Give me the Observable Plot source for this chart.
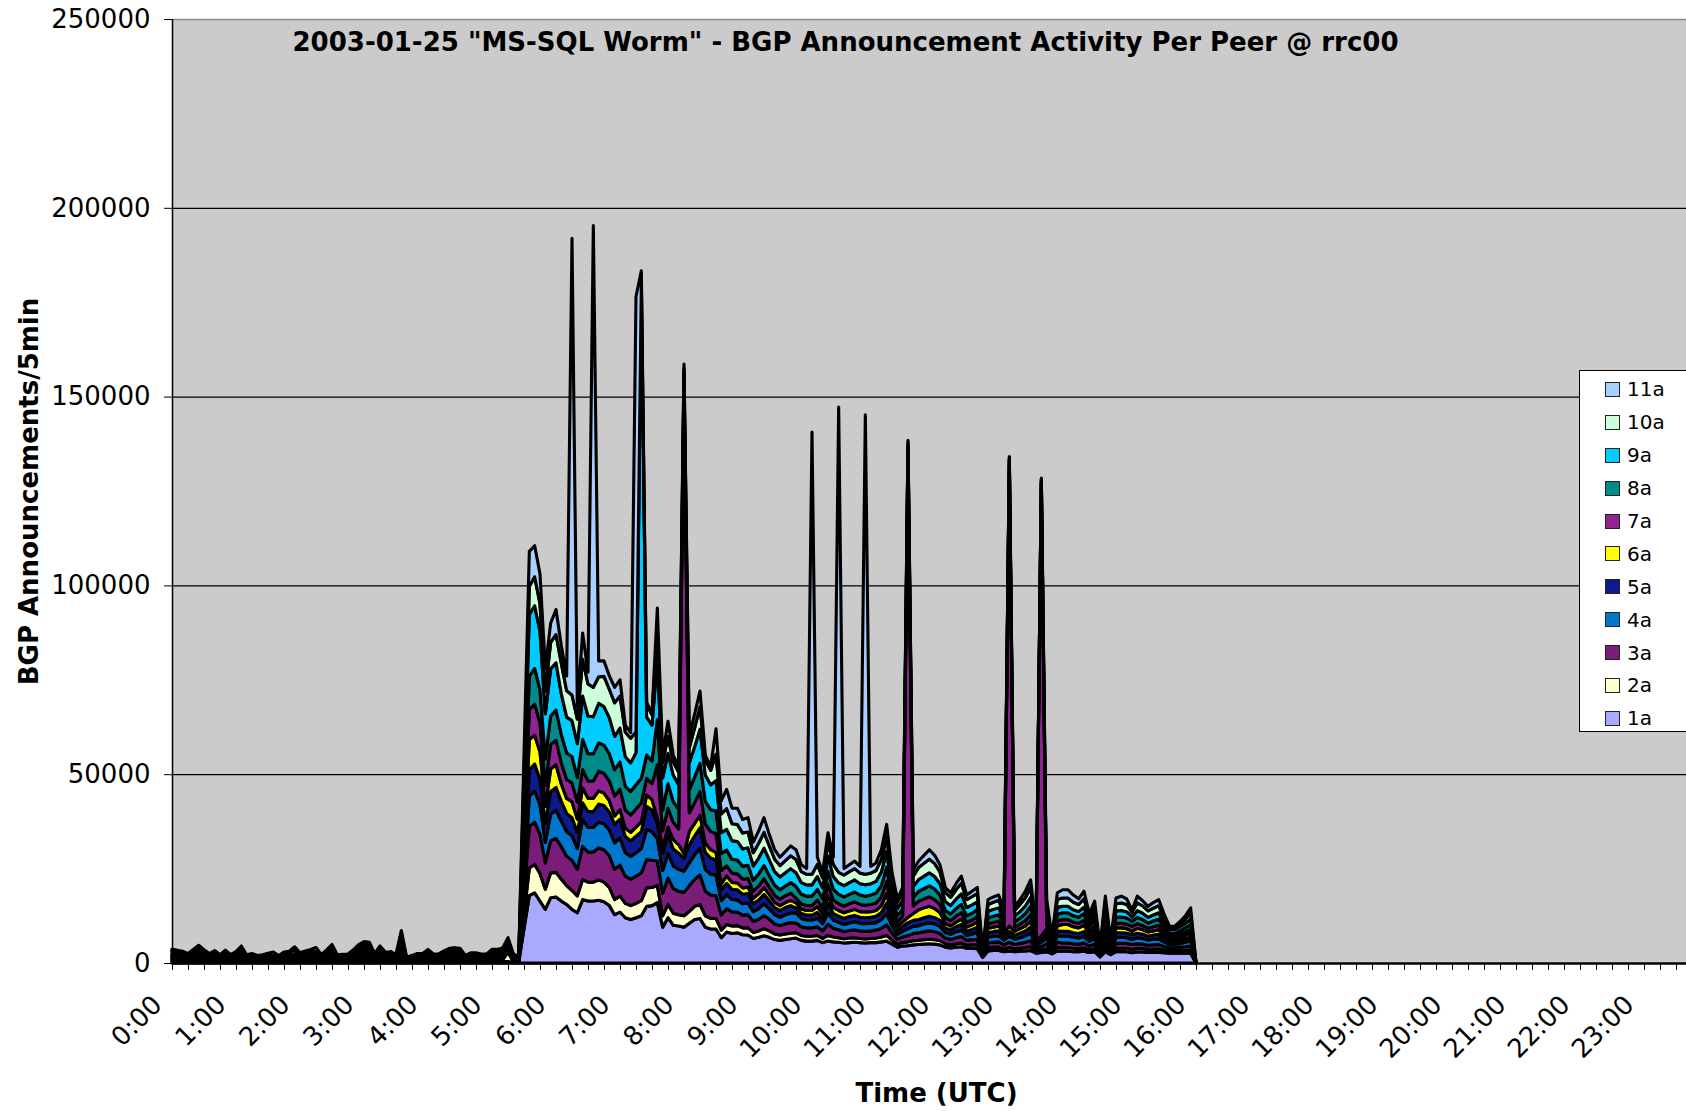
<!DOCTYPE html>
<html>
<head>
<meta charset="utf-8">
<script src="https://cdn.jsdelivr.net/npm/d3@7"></script>
<script src="https://cdn.jsdelivr.net/npm/@observablehq/plot@0.6"></script>
<style>
  html, body { margin: 0; padding: 0; overflow: hidden; background: #ffffff; }
  #wrap { position: relative; width: 1686px; height: 1111px; overflow: hidden; font-family: "DejaVu Sans", Verdana, sans-serif; }
  #legend { position: absolute; left: 1579px; top: 370px; width: 140px; height: 362px; background: #fff; border: 1px solid #000; box-sizing: border-box; padding-top: 2px; }
  .row { height: 32.9px; display: flex; align-items: center; }
  .sw { width: 13px; height: 13px; border: 1.5px solid #222; margin-left: 25px; margin-right: 7px; }
  .lb { font-size: 20px; color: #000; }
</style>
</head>
<body>
<div id="wrap"></div>
<script>
// ---- text ----
const chartTitle = '2003-01-25 "MS-SQL Worm" - BGP Announcement Activity Per Peer @ rrc00';
const yTitle = "BGP Announcements/5min";
const xTitle = "Time (UTC)";
const hourLabels = ["0:00","1:00","2:00","3:00","4:00","5:00","6:00","7:00","8:00","9:00","10:00","11:00",
  "12:00","13:00","14:00","15:00","16:00","17:00","18:00","19:00","20:00","21:00","22:00","23:00"];
const yTicks = [0, 50000, 100000, 150000, 200000, 250000];

// ---- series (peers), stacked bottom to top ----
const series = ["1a","2a","3a","4a","5a","6a","7a","8a","9a","10a","11a"];
const colors = ["#a9a9ff","#ffffd0","#7a1c78","#0077cc","#0c1a8c","#ffff00","#8f2390","#008b8b","#00ccff","#ccffda","#a8d0ff"];

// ---- values per 5-minute slot, 0:00 .. 16:00 ----
// quiet period 0:00-5:25 (slots 0..65), thin band shared by most peers
const quietBand = [300,300,300,200,300,400,300,200,300,200, 300,200,300,400,200,200,200,200,200,200,
  200,200,200,300,200,200,300,300,200,300, 400,200,200,200,300,400,500,500,200,400,
  200,300,200,800,100,200,200,200,300,200, 200,300,300,400,300,200,200,200,200,200,
  300,300,400,400,200,100];
const quiet2a = [300,300,300,200,300,400,300,200,300,200, 300,200,300,400,200,200,200,200,200,200,
  200,200,200,300,200,200,300,300,200,300, 400,200,200,200,300,400,500,500,200,400,
  200,300,200,800,100,200,200,200,300,200, 200,300,300,400,300,200,200,200,200,200,
  300,300,400,2500,200,100];
const quiet9a = [800,300,300,200,300,400,300,200,300,200, 300,200,300,400,200,200,200,200,200,200,
  200,200,1000,1200,200,1000,300,300,200,300, 400,200,200,200,300,400,500,500,200,400,
  200,300,200,800,100,200,200,200,300,200, 200,300,300,400,300,200,200,200,200,200,
  300,300,400,400,200,100];
const quiet11a = [200,400,100,500,600,700,500,500,300,200, 400,200,0,500,200,500,0,200,600,900,
  0,900,300,400,700,400,600,1100,200,500, 900,200,300,400,500,900,700,500,500,500,
  900,0,200,600,500,0,500,500,600,400, 400,200,900,0,900,0,700,700,400,400,
  600,600,0,600,500,500];

// active period 5:30-16:00 (slots 66..192)
const v1a = quietBand.concat([
  9100,17900,18600,16400,14200,17300,17500,16400,15500,14200,
  13300,16800,16400,16400,16600,16200,15200,12800,13500,12000,
  11500,12000,12500,15000,15200,16000,9500,12000,10000,9800,
  9500,10500,11500,11800,9500,9000,9000,6700,8200,7800,
  8000,7500,7400,6500,6800,7200,6800,6200,6000,6200,
  6400,6600,6000,5800,5800,6000,5400,5800,5600,5500,
  5300,5400,5500,5400,5300,5400,5400,5600,5800,5000,
  4200,4500,4600,4800,4900,5000,5100,5000,4800,4200,
  4000,4200,4300,3900,3900,3800,1500,3200,3300,3300,
  3000,3200,3000,3100,3200,3300,2600,2800,3000,2400,
  3200,3100,3100,3000,3000,3100,2800,3000,1600,3000,
  2200,3000,3000,3000,2700,2900,2900,2800,2800,2800,
  2700,2600,2600,2600,2600,2600,0]);
const v2a = quiet2a.concat([
  3600,7300,7500,7300,5300,6600,6500,5800,5000,5000,
  4500,5300,5000,5000,5400,5200,4800,4000,4200,3800,
  3700,3800,4000,4900,4800,4500,3000,3500,3200,3000,
  3000,3200,3500,3700,3000,2800,2800,2000,2000,2000,
  1900,1800,1900,1600,1700,1900,1700,1500,1400,1500,
  1500,1400,1300,1300,1300,1300,1100,1500,1300,1200,
  1100,1200,1200,1100,1100,1100,1200,1300,1500,1100,
  800,900,1000,1100,1100,1200,1200,1200,1100,900,
  800,900,1000,800,900,1000,100,800,900,900,
  700,900,800,800,900,1000,500,600,800,400,
  900,900,900,900,800,900,700,800,300,900,
  400,900,900,900,900,900,900,800,800,900,
  700,600,600,700,700,800,0]);
const v3a = quietBand.concat([
  5500,11000,11200,10400,7000,8500,9000,8600,7800,8000,
  7000,8800,8000,8000,8500,8600,8400,8000,8200,7200,
  7000,7200,7400,7500,7200,6500,6000,7000,6500,6200,
  6200,6800,7200,7800,6500,6200,6000,4000,4200,3700,
  3600,3400,3500,2900,3100,3500,3100,2700,2500,2700,
  2800,2600,2300,2200,2200,2300,2000,3000,2300,2100,
  1900,2000,2100,2000,2000,2000,2100,2300,2800,1900,
  1300,1500,1700,1900,2000,2100,2200,2100,1900,1500,
  1400,1600,1700,1300,1400,1500,200,1300,1300,1400,
  1100,1400,1100,1300,1400,1600,700,900,1300,500,
  1400,1300,1300,1200,1200,1300,1000,1200,300,1300,
  400,1300,1300,1300,1300,1300,1200,1100,1200,1200,
  1000,800,800,900,1000,1100,0]);
const v4a = quietBand.concat([
  4100,8000,8200,7800,5500,7000,7500,6800,6500,6500,
  5500,7100,6500,6500,6800,6900,6800,7000,7200,6200,
  6000,6200,6400,8000,7500,6000,6000,6500,6000,5800,
  5600,6000,6500,7000,5800,5500,5500,3800,3700,3300,
  3200,3000,3100,2600,2800,3100,2700,2400,2200,2400,
  2500,2700,2200,2100,2100,2200,1900,3000,2200,2000,
  1900,2000,2100,2000,2000,2000,2000,2300,3000,1900,
  1300,1500,1800,1900,1900,2000,2100,2000,1900,1500,
  1400,1600,1700,1300,1500,1800,200,1500,1600,1600,
  1300,1600,1400,1500,1700,2000,800,1200,1500,600,
  1700,1800,1800,1700,1600,1700,1200,1500,300,1600,
  500,1600,1600,1500,1300,1600,1500,1400,1500,1500,
  1200,900,900,1000,1200,1400,0]);
const v5a = quietBand.concat([
  3600,7000,7200,6800,5000,6000,6000,5200,4800,4800,
  4300,4400,4200,4200,4800,4800,4800,4900,5000,4300,
  4200,4400,4500,6100,5800,4000,4500,5000,4500,4300,
  3500,4800,5000,5500,4500,4300,4000,3000,3000,2700,
  2700,2500,2500,2100,2300,2500,2200,1900,1800,1900,
  2000,1300,1300,1300,1300,1600,1400,2500,1700,1600,
  1600,1700,1700,1600,1600,1600,1700,1900,2800,1500,
  1100,1300,1600,1600,1600,1700,1800,1700,1600,1200,
  1100,1300,1500,1100,1200,1400,100,1200,1200,1300,
  1000,1300,1000,1200,1300,1600,600,900,1200,500,
  1300,1300,1300,1200,1200,1300,900,1100,300,1200,
  400,1200,1200,1200,1300,1200,1100,1000,1100,1200,
  900,700,700,800,900,1000,0]);
const v6a = quietBand.concat([
  3900,8000,7600,7200,4500,6000,6000,4600,4000,4200,
  3500,4000,3500,3500,3500,3300,3000,2200,2500,2200,
  2200,2400,2600,3000,2800,1500,1500,2000,2500,2200,
  1200,3500,3300,3400,2500,2200,2000,1500,2000,1800,
  1800,1700,1700,1400,1600,1800,1600,1400,1300,1300,
  1400,1300,1200,1200,1200,1500,1300,2000,1600,1500,
  1500,1500,1600,1500,1500,1500,1500,1800,2500,1400,
  1000,1200,1400,1800,2600,2600,2600,2400,2000,1200,
  1100,1200,1400,1100,1200,1400,100,1200,1200,1300,
  1000,1400,1100,1200,1300,1600,600,800,1200,500,
  1300,1800,1800,1600,1500,1700,1000,1200,300,1300,
  400,1300,1300,1200,900,1300,1200,1100,1100,1200,
  1000,700,700,800,900,1000,0]);
const v7a = quietBand.concat([
  4100,7900,8300,7700,5500,6500,6500,5600,5000,5000,
  4500,4800,4600,4600,5200,5200,5200,5300,5400,4800,
  4600,4800,5000,4400,4200,14000,4500,5000,4500,4200,
  124600,5000,5500,6200,5000,4800,5000,3500,2600,2500,
  2400,2300,2300,1900,2100,2300,2000,1800,1700,1800,
  1900,1300,1300,1300,1300,1800,1500,3000,2000,1800,
  1800,1900,2000,1900,1800,1900,2000,2300,3200,1800,
  1200,1500,123600,2000,2300,2400,2500,2400,2200,1500,
  1400,1600,1700,1300,1300,1400,200,1200,1200,1300,
  1000,122900,1100,1200,1400,1700,600,120100,1200,500,
  1300,1300,1300,1200,1200,1300,900,1100,300,1200,
  400,1200,1200,1200,1300,1200,1100,1000,1100,1200,
  900,700,700,800,900,1000,0]);
const v8a = quietBand.concat([
  4700,8900,9400,8800,7000,7500,8000,7500,7000,7000,
  6500,8000,7200,7200,7500,7500,7200,7000,7200,6300,
  6200,6400,6500,6200,6000,12000,5500,6500,5500,5200,
  1500,6000,6800,7500,6000,5800,6000,4500,4200,3700,
  3700,3400,3500,2900,3200,3500,3100,2700,2500,2600,
  2800,3100,2600,2500,2500,2800,2400,3500,2800,2500,
  2400,2500,2600,2500,2400,2500,2600,3000,3800,2300,
  1600,1900,800,2300,2600,2700,2900,2800,2500,1900,
  1800,2000,2200,1700,1800,1900,200,1600,1700,1700,
  1300,400,1400,1600,1900,2200,700,300,1600,500,
  1800,1800,1800,1700,1600,1800,1200,1500,300,1700,
  500,1600,1700,1600,1300,1700,1600,1400,1500,1600,
  1200,800,800,900,1100,1300,0]);
const v9a = quiet9a.concat([
  8300,16300,16600,15500,12000,12500,12500,10800,9500,9500,
  9000,11500,10000,9800,10500,10200,9600,8800,9000,7800,
  7600,8500,130600,10000,9500,16000,8500,8000,7000,6500,
  1500,7200,8000,9000,7000,6600,8000,5500,5500,4900,
  4900,4600,4600,3800,4200,4600,4100,3600,3400,3500,
  3700,3600,3100,3000,3000,3400,2900,4000,3400,3000,
  3000,3100,3200,3000,3000,3000,3100,3600,4200,2900,
  1900,2300,800,2900,3100,3300,3500,3300,3000,2400,
  2200,2500,2800,2200,2200,2000,200,1700,1800,1800,
  1400,400,1500,1700,2000,2400,700,300,1700,500,
  1900,1700,1700,1600,1500,1700,1200,1600,300,1700,
  400,1700,1700,1700,1200,1800,1700,1500,1600,1700,
  1200,1000,1000,1100,1200,1400,0]);
const v10a = quietBand.concat([
  3900,7500,7700,7200,6000,7000,7500,8000,7000,6800,
  6500,9700,8500,7800,7000,8000,7500,8900,8500,6500,
  6500,5500,800,3500,2700,7000,4000,4500,3500,3300,
  1000,4000,5000,6000,4000,3800,7000,5000,5500,4500,
  4500,4200,4200,3500,3900,4200,3700,3300,3000,3200,
  3400,3500,2900,2800,2800,3200,2600,3500,3200,2800,
  2800,2900,3000,2800,2800,2800,2900,3300,3800,2600,
  1700,2100,600,2700,3200,3400,3600,3400,3100,2400,
  2200,2500,2800,2100,2200,2200,100,1800,1900,2000,
  1300,300,1500,1900,2200,2600,600,300,1900,400,
  2100,2200,2200,2000,1900,2200,1200,1800,200,2000,
  200,1900,2000,1900,1300,2000,1900,1700,1800,1900,
  1300,600,600,800,1100,1500,0]);
const v11a = quiet11a.concat([
  4400,9200,8200,7900,6000,5100,6600,4700,3900,120900,
  3400,7000,3100,122300,4200,4100,3500,4100,4300,1900,
  1500,115300,3000,400,300,6500,2000,4000,1800,1500,
  1000,3000,3700,4100,1200,1000,6700,3500,5100,4100,
  4300,3600,3800,2800,3300,3900,3000,2500,2200,2400,
  2600,2600,1800,1500,117100,1900,1500,2700,1900,123200,
  1700,1800,2000,1800,121700,1800,2000,2600,3300,1600,
  900,1300,500,1700,1700,2100,2500,2200,1900,1300,
  1200,1600,1900,1200,1400,1600,100,1300,1400,1400,
  900,300,1100,1300,1700,2000,400,200,1400,200,
  1700,2200,2200,1900,1500,2000,900,1600,200,1800,
  200,1500,1800,1500,500,1800,1400,1200,1500,1600,
  900,400,300,600,900,1500,0]);

const seriesValues = [v1a, v2a, v3a, v4a, v5a, v6a, v7a, v8a, v9a, v10a, v11a];

// long table: slot index (5-min), peer, announcements
const table = [];
series.forEach((name, k) => seriesValues[k].forEach((v, slot) => table.push({slot, peer: name, value: v})));

const slotsPerDay = 288;
const hourTicks = hourLabels.map((_, h) => h * 12);
const quarterTicks = d3.range(0, slotsPerDay + 1, 3);

const chart = Plot.plot({
  width: 1708,
  height: 1111,
  marginLeft: 172,
  marginRight: 0,
  marginTop: 19,
  marginBottom: 148,
  style: {background: "transparent", maxWidth: "none", fontFamily: "DejaVu Sans, Verdana, sans-serif", color: "#000", overflow: "visible"},
  x: {domain: [0, slotsPerDay], axis: null},
  y: {domain: [0, 250000], axis: null},
  color: {domain: series, range: colors},
  marks: [
    Plot.frame({fill: "#cbcbcb", stroke: "none"}),
    Plot.gridY({ticks: yTicks.slice(1, -1), stroke: "#000", strokeOpacity: 1, strokeWidth: 1.2}),
    Plot.ruleY([250000], {stroke: "#8c8c8c", strokeWidth: 1.5}),
    Plot.areaY(table, Plot.stackY({x: "slot", y: "value", z: "peer", fill: "peer", order: series,
      stroke: "#000", strokeWidth: 3.1})),
    Plot.ruleX([0], {stroke: "#000", strokeWidth: 1.5}),
    Plot.ruleY([0], {stroke: "#000", strokeWidth: 2.5}),
    Plot.axisY({ticks: yTicks, tickFormat: d => String(d), tickSize: 8, tickPadding: 14, fontSize: 26, label: null}),
    Plot.axisX({ticks: quarterTicks, tickFormat: () => "", tickSize: 7, label: null}),
    Plot.axisX({ticks: hourTicks, tickFormat: d => hourLabels[d / 12], tickRotate: -45, tickSize: 0,
      tickPadding: 37, dx: -15, fontSize: 26, label: null}),
    Plot.text([yTitle], {text: d => d, frameAnchor: "left", textAnchor: "middle", dx: -143, rotate: -90, fontSize: 26, fontWeight: "bold"}),
    Plot.text([xTitle], {text: d => d, frameAnchor: "bottom", dy: 130, dx: -4, lineAnchor: "middle", fontSize: 26, fontWeight: "bold"}),
    Plot.text([chartTitle], {text: d => d, frameAnchor: "top", dy: 13, dx: -95, lineAnchor: "top", fontSize: 26, fontWeight: "bold"})
  ]
});

const wrap = document.getElementById("wrap");
wrap.appendChild(chart);

// legend (top entry = last stacked series)
const legend = document.createElement("div");
legend.id = "legend";
series.slice().reverse().forEach(name => {
  const row = document.createElement("div");
  row.className = "row";
  const sw = document.createElement("div");
  sw.className = "sw";
  sw.style.background = colors[series.indexOf(name)];
  const lb = document.createElement("span");
  lb.className = "lb";
  lb.textContent = name;
  row.appendChild(sw);
  row.appendChild(lb);
  legend.appendChild(row);
});
wrap.appendChild(legend);
</script>
</body>
</html>
